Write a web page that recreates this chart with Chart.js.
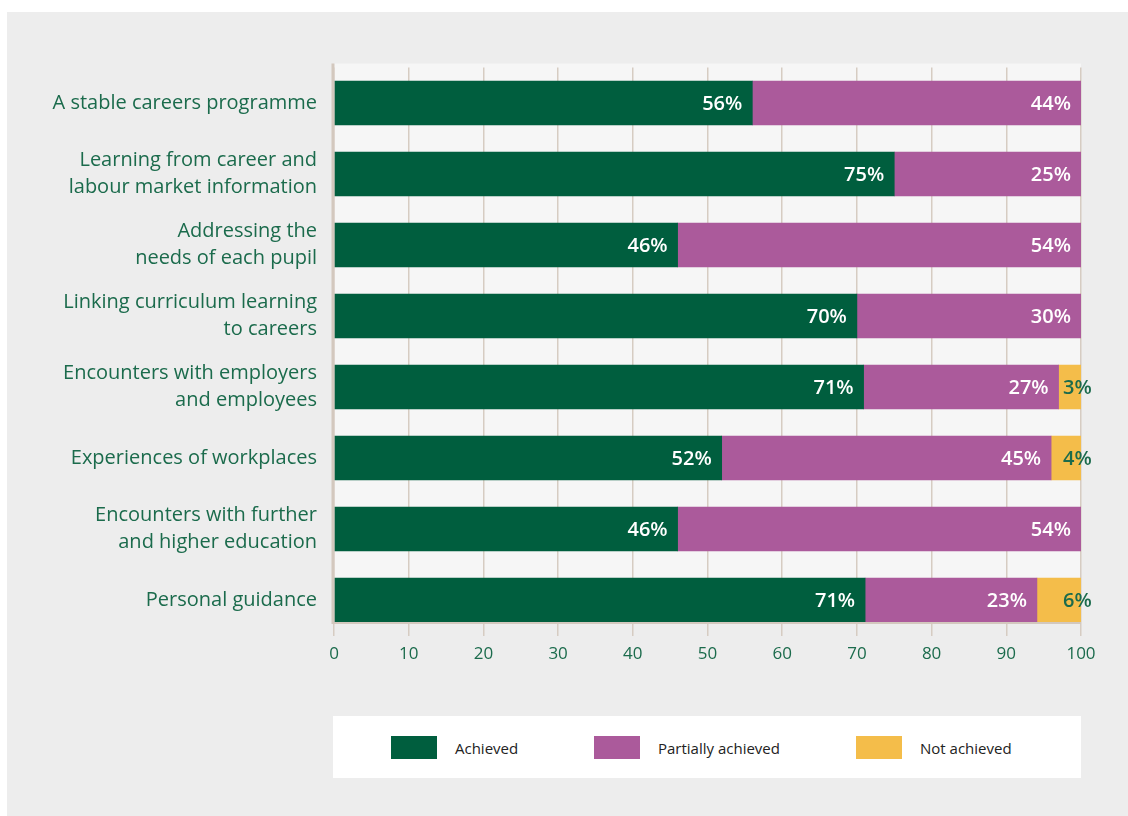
<!DOCTYPE html>
<html lang="en">
<head>
  <meta charset="UTF-8" />
  <title>Careers benchmarks</title>
  <script src="https://cdn.jsdelivr.net/npm/chart.js"></script>
  <style>
    body {
      margin: 0;
      background: #ffffff;
      font-family: 'Open Sans', sans-serif;
    }
    #panel {
      position: absolute;
      left: 7px;
      top: 12px;
      width: 1121px;
      height: 804px;
      background: #ededed;
    }
    #wrap {
      position: absolute;
      left: 0;
      top: 0;
      width: 1128px;
      height: 700px;
    }
    #legend {
      position: absolute;
      left: 333px;
      top: 716px;
      width: 748px;
      height: 62px;
      background: #ffffff;
    }
    .item {
      position: absolute;
      top: 20px;
      height: 23px;
      display: flex;
      align-items: center;
      font-size: 15px;
      color: #222;
    }
    .sw {
      width: 46px;
      height: 23px;
      margin-right: 18px;
    }
  </style>
</head>
<body>
<div id="panel"></div>
<div id="wrap"><canvas id="chart"></canvas></div>
<div id="legend"></div>

<script>
  const categories = [
    'A stable careers programme',
    ['Learning from career and', 'labour market information'],
    ['Addressing the', 'needs of each pupil'],
    ['Linking curriculum learning', 'to careers'],
    ['Encounters with employers', 'and employees'],
    'Experiences of workplaces',
    ['Encounters with further', 'and higher education'],
    'Personal guidance'
  ];
  const seriesNames = ['Achieved', 'Partially achieved', 'Not achieved'];
  const achieved = [56, 75, 46, 70, 70.9, 51.9, 46, 71.1];
  const partial = [44, 25, 54, 30, 26.1, 44.1, 54, 23];
  const notAchieved = [0, 0, 0, 0, 3, 4, 0, 5.9];
  // labels as printed on the bars
  const achievedLabels = ['56%', '75%', '46%', '70%', '71%', '52%', '46%', '71%'];
  const partialLabels = ['44%', '25%', '54%', '30%', '27%', '45%', '54%', '23%'];
  const notAchievedLabels = ['', '', '', '', '3%', '4%', '', '6%'];
  const xTicks = [0, 10, 20, 30, 40, 50, 60, 70, 80, 90, 100];

  const colors = ['#005e3e', '#ab5a9b', '#f4bd4a'];
  const textGreen = '#1b6b4c';
  const BAR = 44;

  const plotDecor = {
    id: 'plotDecor',
    beforeDraw(chart) {
      const { ctx, chartArea: a, scales: { y } } = chart;
      const bottom = y.getPixelForValue(categories.length - 1) + BAR / 2;
      ctx.save();
      ctx.fillStyle = '#f6f6f6';
      ctx.fillRect(a.left, a.top - 4, a.right - a.left, bottom - a.top + 4);
      ctx.restore();
    },
    afterDatasetsDraw(chart) {
      const { ctx, chartArea: a, scales: { y } } = chart;
      const bottom = y.getPixelForValue(categories.length - 1) + BAR / 2;
      ctx.save();
      ctx.strokeStyle = '#d3c8be';
      ctx.lineWidth = 2;
      ctx.beginPath();
      ctx.moveTo(a.left - 1, bottom + 1);
      ctx.lineTo(a.right, bottom + 1);
      ctx.stroke();
      ctx.lineWidth = 3;
      ctx.beginPath();
      ctx.moveTo(a.left - 1, a.top - 4);
      ctx.lineTo(a.left - 1, bottom + 2);
      ctx.stroke();

      // value labels
      const labelSets = [achievedLabels, partialLabels, notAchievedLabels];
      ctx.font = '600 20px "Open Sans"';
      ctx.textBaseline = 'middle';
      labelSets.forEach((set, i) => {
        const meta = chart.getDatasetMeta(i);
        meta.data.forEach((bar, j) => {
          if (!set[j]) return;
          if (i < 2) {
            ctx.fillStyle = '#ffffff';
            ctx.textAlign = 'right';
            ctx.fillText(set[j], bar.x - 10, bar.y + 1);
          } else {
            ctx.fillStyle = textGreen;
            ctx.textAlign = 'left';
            ctx.fillText(set[j], a.right - 18, bar.y + 1);
          }
        });
      });
      ctx.restore();
    }
  };

  const ctx = document.getElementById('chart').getContext('2d');
  new Chart(ctx, {
    type: 'bar',
    data: {
      labels: categories,
      datasets: [
        { label: seriesNames[0], data: achieved, backgroundColor: colors[0] },
        { label: seriesNames[1], data: partial, backgroundColor: colors[1] },
        { label: seriesNames[2], data: notAchieved, backgroundColor: colors[2] }
      ]
    },
    options: {
      indexAxis: 'y',
      responsive: true,
      maintainAspectRatio: false,
      animation: false,
      barThickness: BAR,
      layout: { padding: { top: 67.5, right: 47, bottom: 24.5, left: 0 } },
      plugins: {
        legend: { display: false },
        tooltip: { enabled: false }
      },
      scales: {
        x: {
          stacked: true,
          min: 0,
          max: 100,
          afterBuildTicks: s => { s.ticks = xTicks.map(v => ({ value: v })); },
          afterFit: s => { s.height = 40; },
          grid: { color: '#d6ccc2', lineWidth: 1.5, drawTicks: false },
          border: { display: false },
          ticks: { color: textGreen, font: { family: 'Open Sans', size: 17 }, padding: 8 }
        },
        y: {
          stacked: true,
          afterFit: s => { s.width = 334; },
          grid: { display: false, drawTicks: false },
          border: { display: false },
          ticks: {
            color: textGreen,
            padding: 17,
            font: { family: 'Open Sans', size: 20, lineHeight: 1.35 }
          }
        }
      }
    },
    plugins: [plotDecor]
  });

  // legend
  const legendLeft = [58, 261, 523];
  const legend = document.getElementById('legend');
  seriesNames.forEach((name, i) => {
    const item = document.createElement('div');
    item.className = 'item';
    item.style.left = legendLeft[i] + 'px';
    item.innerHTML = `<span class="sw" style="background:${colors[i]}"></span><span>${name}</span>`;
    legend.appendChild(item);
  });
</script>
</body>
</html>
